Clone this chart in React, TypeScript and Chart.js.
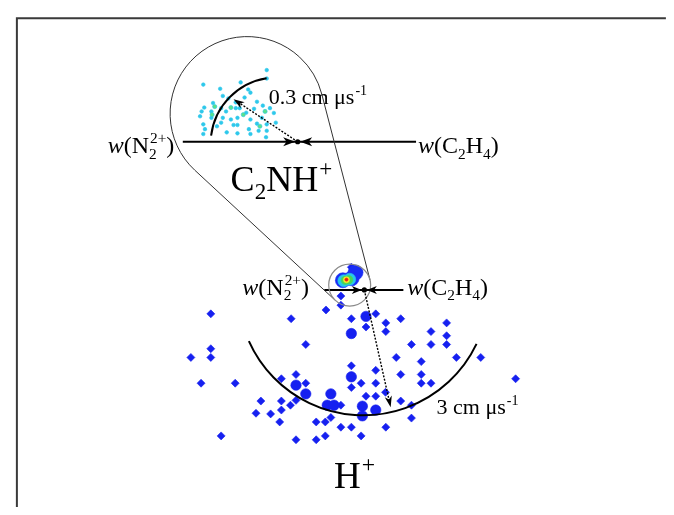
import React, { useEffect, useRef } from "react";
import { Chart, registerables } from "chart.js";
Chart.register(...registerables);

// ---- data (page-frame velocity-map coordinates) ----
const hPlusDiamonds = [
  [351.7, 267.5], [341, 297.3], [341, 306.7], [325.7, 311.7], [207.7, 315.7], [290, 320.7],
  [351.7, 320.7], [376.7, 315.7], [387, 325], [402.3, 320.7], [366.7, 329.3], [387, 334],
  [449.3, 325], [433.3, 334], [449.3, 338.3], [305, 347.3], [207.7, 351.7], [413.3, 347.3],
  [433.3, 347.3], [449.3, 347.3], [187.3, 360.7], [207.7, 360.7], [397.7, 360.7], [423.3, 365],
  [459.3, 360.7], [484.3, 360.7], [520, 382.7], [351.7, 369.3], [376.7, 374], [402.3, 378.3],
  [423.3, 378.3], [280, 382.7], [295, 378.3], [197.7, 387.3], [232.7, 387.3], [305, 387.3],
  [361.7, 387.3], [376.7, 387.3], [423.3, 387.3], [433.3, 387.3], [351.7, 391.7], [386.7, 396.7],
  [366.7, 400.7], [376.7, 400.7], [259, 405.7], [280, 405.7], [295, 405], [289.3, 410],
  [341, 410], [402.3, 405.7], [413.3, 410], [280, 415], [254, 418.3], [269, 419],
  [330.7, 422.7], [325, 427.3], [315.7, 427.3], [278.3, 427.3], [413.3, 423.3], [341, 432.7],
  [351.7, 432.7], [387, 432.7], [218.3, 441.7], [295, 445.7], [315.7, 445.7], [325, 441.7],
  [361.7, 441.7],
];
const hPlusDense = [
  [366.7, 318.3], [351.7, 336], [351.7, 380.7], [295, 389.3], [305, 398.3], [330.7, 398.3],
  [327, 410], [334, 410], [363, 411], [376.7, 415], [363, 421],
];
const c2nhCyan = [
  [265, 64], [265, 72.7], [238.3, 76.7], [200, 79], [217.3, 83.3], [246, 84], [248.3, 87.3],
  [220, 90.7], [242.3, 92.3], [225.7, 93.3], [233.3, 97.3], [255, 96.7], [201, 102.7],
  [218.3, 103.3], [233.3, 103.3], [237.3, 103.3], [261, 100.7], [268.3, 103.3], [198.3, 106.7],
  [208.3, 106.7], [223.3, 106.7], [272.3, 108.3], [196.7, 111.7], [208.3, 113.3], [220, 113.3],
  [228.3, 115], [235, 113.3], [248.3, 115], [260, 113.3], [200, 120], [218.3, 118.3],
  [231, 120.7], [235, 120.7], [255, 119.3], [265, 120], [274.3, 118.3], [201.7, 125],
  [246.7, 125], [256.7, 126.7], [224, 128.3], [235, 129.3], [248.3, 130], [265, 126.7],
  [200, 130], [264.3, 133.3], [210, 98], [244, 108], [252, 104], [214, 122],
];
const c2nhGreen = [
  [211.7, 101.7], [228.3, 102.7], [241, 110], [263.3, 106.7], [209, 110], [258, 122],
];
const blobBlue = [[343, 281], [352, 279], [356, 273]];
const blobCyan = [[344, 281.5], [350, 280]];
const blobGreen = [[345.5, 281], [349, 280.5]];
const blobYellow = [[346.7, 280.5]];
const blobRed = [[346.7, 280.3]];
const upperAxis = [[179, 138], [418, 138]];
const lowerAxis = [[324, 291], [405, 291]];

// geometry of the Newton diagrams
const upperCM = { x: 296.7, y: 138 };
const lowerCM = { x: 365, y: 291 };
const upperArc = { x: 275.5, y: 140, r: 68, a0: 187, a1: 261 };
const lowerArc = { x: 364, y: 291, r: 128.5, a0: 25.5, a1: 155.9 };
const upperVecTip = { x: 231, y: 94 };
const lowerVecTip = { x: 392, y: 412 };
const balloonBig = { x: 245, y: 109, r: 79 };
const balloonSmall = { x: 350, y: 286, r: 21.5 };

const toPts = (a: number[][]) => a.map(([x, y]) => ({ x, y }));

type Seg = { t?: string; i?: boolean; sub?: string; sup?: string };
const labels: { segs: Seg[]; x: number; y: number; size: number }[] = [
  { segs: [{ t: "w", i: true }, { t: "(N" }, { sub: "2", sup: "2+" }, { t: ")" }], x: 102, y: 150, size: 24 },
  { segs: [{ t: "w", i: true }, { t: "(C" }, { sub: "2" }, { t: "H" }, { sub: "4" }, { t: ")" }], x: 420, y: 150, size: 24 },
  { segs: [{ t: "0.3 cm μs" }, { sup: "-1" }], x: 267, y: 99, size: 22 },
  { segs: [{ t: "C" }, { sub: "2" }, { t: "NH" }, { sup: "+" }], x: 228, y: 189, size: 36 },
  { segs: [{ t: "w", i: true }, { t: "(N" }, { sub: "2", sup: "2+" }, { t: ")" }], x: 240, y: 296, size: 24 },
  { segs: [{ t: "w", i: true }, { t: "(C" }, { sub: "2" }, { t: "H" }, { sub: "4" }, { t: ")" }], x: 409, y: 296, size: 24 },
  { segs: [{ t: "3 cm μs" }, { sup: "-1" }], x: 439, y: 419, size: 22 },
  { segs: [{ t: "H" }, { sup: "+" }], x: 334, y: 495, size: 37 },
];

const FONT = '"Liberation Serif", "DejaVu Serif", serif';

function drawRich(ctx: CanvasRenderingContext2D, segs: Seg[], x: number, y: number, size: number) {
  let cx = x;
  ctx.textBaseline = "alphabetic";
  ctx.textAlign = "left";
  ctx.fillStyle = "#000";
  for (const s of segs) {
    if (s.t) {
      ctx.font = `${s.i ? "italic " : ""}${size}px ${FONT}`;
      ctx.fillText(s.t, cx, y);
      cx += ctx.measureText(s.t).width;
    }
    if (s.sub || s.sup) {
      const ss = size * 0.64;
      ctx.font = `${ss}px ${FONT}`;
      let w = 0;
      if (s.sub) {
        ctx.fillText(s.sub, cx, y + size * 0.22);
        w = Math.max(w, ctx.measureText(s.sub).width);
      }
      if (s.sup) {
        ctx.fillText(s.sup, cx + 1, y - size * 0.42);
        w = Math.max(w, ctx.measureText(s.sup).width + 1);
      }
      cx += w;
    }
  }
}

function head(ctx: CanvasRenderingContext2D, x: number, y: number, ang: number, len: number, hw: number) {
  const c = Math.cos(ang), s = Math.sin(ang);
  const bx = x - c * len, by = y - s * len;
  const nx = x - c * len * 0.72, ny = y - s * len * 0.72;
  ctx.beginPath();
  ctx.moveTo(x, y);
  ctx.lineTo(bx - s * hw, by + c * hw);
  ctx.lineTo(nx, ny);
  ctx.lineTo(bx + s * hw, by - c * hw);
  ctx.closePath();
  ctx.fill();
}

const decorPlugin = {
  id: "decor",
  afterDatasetsDraw(chart: any) {
    const ctx: CanvasRenderingContext2D = chart.ctx;
    const xs = chart.scales.x, ys = chart.scales.y;
    const px = (v: number) => xs.getPixelForValue(v);
    const py = (v: number) => ys.getPixelForValue(v);
    const pr = (r: number) => px(r) - px(0);
    const rad = (d: number) => (d * Math.PI) / 180;
    ctx.save();

    // frame
    ctx.strokeStyle = "#3a3a3a";
    ctx.lineWidth = 2;
    ctx.beginPath();
    ctx.moveTo(px(9), py(515));
    ctx.lineTo(px(9), py(10.5));
    ctx.lineTo(px(674), py(10.5));
    ctx.stroke();

    // balloon (zoom outline)
    const C1 = { x: px(balloonBig.x), y: py(balloonBig.y), r: pr(balloonBig.r) };
    const C2 = { x: px(balloonSmall.x), y: py(balloonSmall.y), r: pr(balloonSmall.r) };
    const dx = C2.x - C1.x, dy = C2.y - C1.y;
    const d = Math.hypot(dx, dy);
    const th = Math.atan2(dy, dx);
    const be = Math.acos((C1.r - C2.r) / d);
    const pA = th + be, pB = th - be;
    ctx.strokeStyle = "#333";
    ctx.lineWidth = 1;
    ctx.beginPath();
    ctx.moveTo(C2.x + C2.r * Math.cos(pA), C2.y + C2.r * Math.sin(pA));
    ctx.lineTo(C1.x + C1.r * Math.cos(pA), C1.y + C1.r * Math.sin(pA));
    ctx.arc(C1.x, C1.y, C1.r, pA, pB + 2 * Math.PI, false);
    ctx.lineTo(C2.x + C2.r * Math.cos(pB), C2.y + C2.r * Math.sin(pB));
    ctx.stroke();
    ctx.strokeStyle = "#8a8a8a";
    ctx.lineWidth = 1.2;
    ctx.beginPath();
    ctx.arc(C2.x, C2.y, C2.r, 0, Math.PI * 2);
    ctx.stroke();

    // arcs
    ctx.strokeStyle = "#000";
    ctx.lineWidth = 2;
    for (const a of [upperArc, lowerArc]) {
      ctx.beginPath();
      ctx.arc(px(a.x), py(a.y), pr(a.r), rad(a.a0), rad(a.a1), false);
      ctx.stroke();
    }

    // CM arrowheads and dots
    ctx.fillStyle = "#000";
    for (const [cm, len, hw] of [[upperCM, 12, 4.5], [lowerCM, 10, 4]] as [any, number, number][]) {
      const x = px(cm.x), y = py(cm.y);
      head(ctx, x - 2.5, y, 0, len, hw);
      head(ctx, x + 2.5, y, Math.PI, len, hw);
      ctx.beginPath();
      ctx.arc(x, y, 2.6, 0, Math.PI * 2);
      ctx.fill();
    }

    // dotted velocity vectors
    for (const [cm, tip] of [[upperCM, upperVecTip], [lowerCM, lowerVecTip]]) {
      const x0 = px(cm.x), y0 = py(cm.y), x1 = px(tip.x), y1 = py(tip.y);
      const ang = Math.atan2(y1 - y0, x1 - x0);
      ctx.setLineDash([2, 1.5]);
      ctx.lineWidth = 1.4;
      ctx.beginPath();
      ctx.moveTo(x0, y0);
      ctx.lineTo(x1 - Math.cos(ang) * 6, y1 - Math.sin(ang) * 6);
      ctx.stroke();
      ctx.setLineDash([]);
      head(ctx, x1, y1, ang, 11, 3.6);
    }

    // labels
    for (const l of labels) drawRich(ctx, l.segs, px(l.x), py(l.y), l.size);
    ctx.restore();
  },
};

export default function App() {
  const ref = useRef<HTMLCanvasElement | null>(null);
  useEffect(() => {
    if (!ref.current) return;
    const pointSet = (data: number[][], color: string, radius: number, style: any = "circle", border = color) => ({
      type: "scatter" as const,
      data: toPts(data),
      pointStyle: style,
      pointRadius: radius,
      backgroundColor: color,
      borderColor: border,
      borderWidth: 0.6,
      showLine: false,
    });
    const axisSet = (data: number[][]) => ({
      type: "line" as const,
      data: toPts(data),
      borderColor: "#000",
      borderWidth: 2,
      pointRadius: 0,
      showLine: true,
      fill: false,
    });
    const chart = new Chart(ref.current, {
      type: "scatter",
      data: {
        datasets: [
          axisSet(upperAxis) as any,
          axisSet(lowerAxis) as any,
          pointSet(blobRed, "rgb(230,30,20)", 1.6),
          pointSet(blobYellow, "rgb(250,235,40)", 3),
          pointSet(blobGreen, "rgb(70,215,90)", 4.2),
          pointSet(blobCyan, "rgb(40,200,235)", 6),
          pointSet(blobBlue, "rgb(25,45,245)", 7.5),
          pointSet(c2nhGreen, "rgb(90,225,140)", 2.1, "circle", "rgb(40,200,230)"),
          pointSet(c2nhCyan, "rgb(45,200,235)", 1.8),
          pointSet(hPlusDense, "rgb(22,32,240)", 5.2),
          pointSet(hPlusDiamonds, "rgb(22,32,240)", 4, "rectRot"),
        ],
      },
      options: {
        animation: false,
        responsive: false,
        events: [],
        layout: { padding: 0 },
        plugins: { legend: { display: false }, tooltip: { enabled: false } },
        scales: {
          x: { type: "linear", min: 0, max: 674, display: false },
          y: { type: "linear", min: 0, max: 515, reverse: true, display: false },
        },
      },
      plugins: [decorPlugin],
    });
    return () => chart.destroy();
  }, []);
  return (
    <div style={{ position: "fixed", left: 0, top: 0, width: 674, height: 515, background: "#fff" }}>
      <canvas ref={ref} width={674} height={515} style={{ display: "block" }} />
    </div>
  );
}
